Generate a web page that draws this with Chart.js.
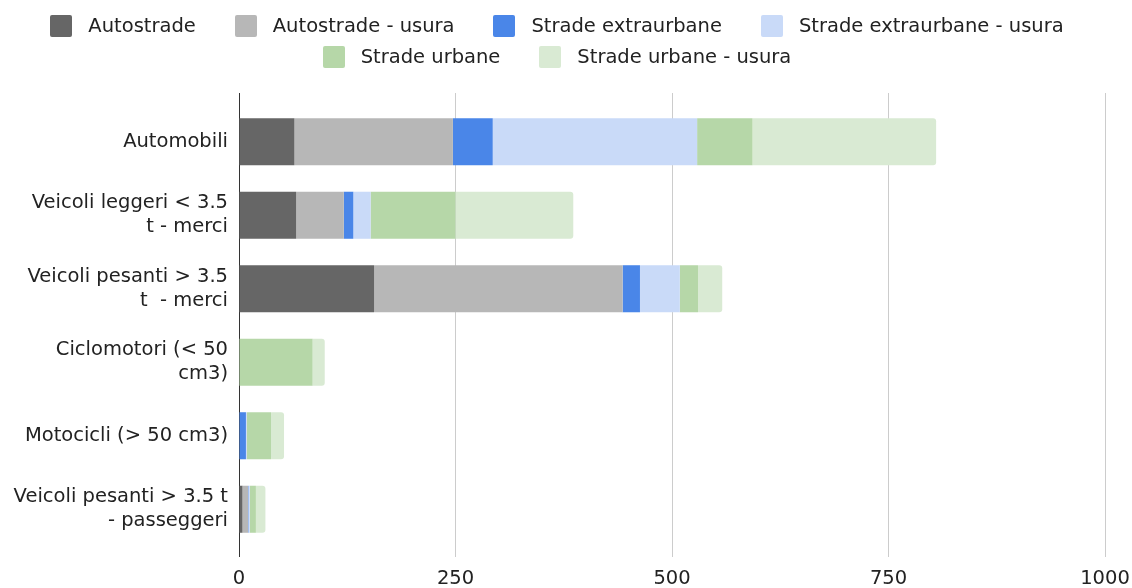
<!DOCTYPE html>
<html>
<head>
<meta charset="utf-8">
<script src="https://cdn.jsdelivr.net/npm/chart.js@4"></script>
<style>
  body { margin: 0; background: #fff; }
  #wrap { position: relative; width: 1132px; height: 588px; }
  #legend {
    position: absolute; top: 0; left: 0; width: 1114px; padding-top: 10px;
    display: flex; flex-wrap: wrap; justify-content: center;
    font-family: "DejaVu Sans", sans-serif; font-size: 19.5px; color: #222;
  }
  .item { display: flex; align-items: center; height: 31px; margin: 0 19.5px; }
  .box { width: 22px; height: 22px; border-radius: 2px; margin-right: 16px; }
</style>
</head>
<body>
<div id="wrap">
  <canvas id="chart"></canvas>
  <div id="legend"></div>
</div>
<script>
const categories = [
    'Automobili',
    ['Veicoli leggeri < 3.5', 't - merci'],
    ['Veicoli pesanti > 3.5', 't  - merci'],
    ['Ciclomotori (< 50', 'cm3)'],
    'Motocicli (> 50 cm3)',
    ['Veicoli pesanti > 3.5 t', '- passeggeri']
];

const autostrade = [64, 66, 156, 0, 0, 4];
const autostradeUsura = [183, 55, 287, 0, 0, 6.5];
const extraurbane = [46, 11, 20, 0, 8, 0.5];
const extraurbaneUsura = [236, 20, 46, 0, 1, 1.5];
const urbane = [64, 98, 21, 85, 28, 7];
const urbaneUsura = [212, 136, 28, 14, 15, 11];

const seriesNames = ['Autostrade', 'Autostrade - usura', 'Strade extraurbane',
    'Strade extraurbane - usura', 'Strade urbane', 'Strade urbane - usura'];
const seriesColors = ['#666666', '#b7b7b7', '#4a86e8', '#c9daf8', '#b6d7a8', '#d9ead3'];
const seriesValues = [autostrade, autostradeUsura, extraurbane, extraurbaneUsura, urbane, urbaneUsura];

const xTickLabels = ['0', '250', '500', '750', '1000'];

const font = { family: '"DejaVu Sans", sans-serif', size: 19.5, lineHeight: 1.22 };

// legenda in HTML (due righe come nell'originale)
const legend = document.getElementById('legend');
seriesNames.forEach((name, i) => {
    const item = document.createElement('div');
    item.className = 'item';
    const box = document.createElement('span');
    box.className = 'box';
    box.style.background = seriesColors[i];
    item.appendChild(box);
    item.appendChild(document.createTextNode(name));
    legend.appendChild(item);
});

function gridColor(ctx) {
    return ctx.tick && ctx.tick.value === 0 ? '#333333' : '#cccccc';
}

// prolunga le linee della griglia sopra l'area del grafico
const topGridExtension = {
    id: 'topGridExtension',
    beforeDatasetsDraw(chart) {
        const { ctx, chartArea, scales } = chart;
        const x = scales.x;
        ctx.save();
        ctx.lineWidth = 1;
        x.ticks.forEach(t => {
            const px = Math.round(x.getPixelForValue(t.value) - 0.5) + 0.5;
            ctx.strokeStyle = t.value === 0 ? '#333333' : '#cccccc';
            ctx.beginPath();
            ctx.moveTo(px, chartArea.top - 12);
            ctx.lineTo(px, chartArea.top);
            ctx.stroke();
        });
        ctx.restore();
    }
};

new Chart(document.getElementById('chart').getContext('2d'), {
    type: 'bar',
    data: {
        labels: categories,
        datasets: seriesNames.map((name, i) => ({
            label: name,
            data: seriesValues[i],
            backgroundColor: seriesColors[i],
            borderWidth: 0,
            borderRadius: 3,
            categoryPercentage: 1,
            barPercentage: 0.64
        }))
    },
    options: {
        indexAxis: 'y',
        responsive: true,
        maintainAspectRatio: false,
        animation: false,
        layout: { padding: { top: 105, right: 27, bottom: 0, left: 0 } },
        plugins: {
            legend: { display: false },
            tooltip: { enabled: false }
        },
        scales: {
            x: {
                stacked: true,
                min: 0,
                max: 1000,
                ticks: {
                    stepSize: 250,
                    padding: 10,
                    color: '#222',
                    font: font,
                    callback: (v, i) => xTickLabels[i]
                },
                grid: { color: gridColor, lineWidth: 1, tickLength: 11, drawTicks: true },
                border: { display: false },
                afterFit(scale) {
                    scale.height = 42;
                    scale.paddingLeft = 0;
                    scale.paddingRight = 0;
                }
            },
            y: {
                stacked: true,
                ticks: { color: '#222', font: font, padding: 11 },
                grid: { display: false, drawTicks: false },
                border: { display: false },
                afterFit(scale) { scale.width = 239; }
            }
        }
    },
    plugins: [topGridExtension]
});
</script>
</body>
</html>
